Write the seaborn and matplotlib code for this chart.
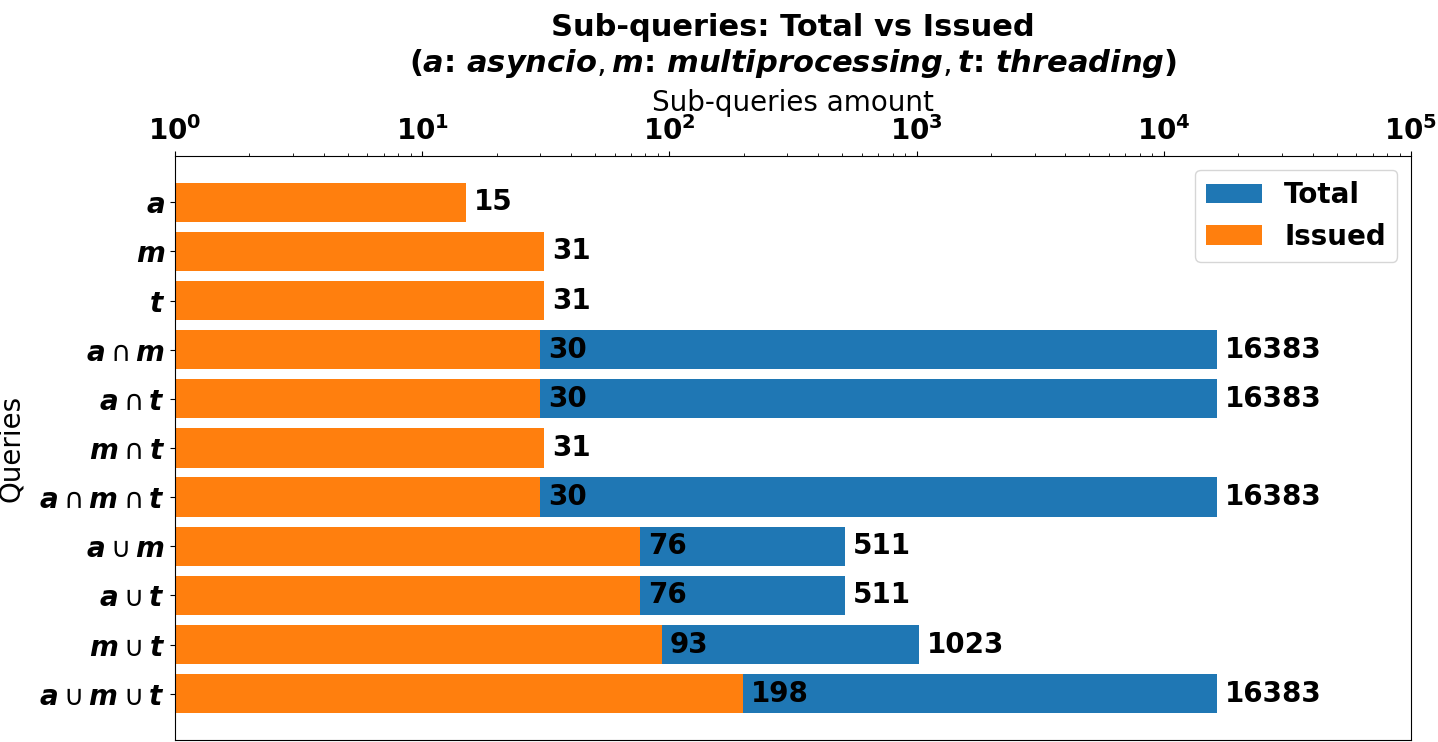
import seaborn as sns
import pandas as pd
import matplotlib.pyplot as plt

queries = ['a', 'm', 't', 'a∩m', 'a∩t', 'm∩t', 'a∩m∩t', 'a∪m', 'a∪t', 'm∪t', 'a∪m∪t']
tick_labels = [r'$\mathbfit{a}$', r'$\mathbfit{m}$', r'$\mathbfit{t}$',
               r'$\mathbfit{a} \cap \mathbfit{m}$', r'$\mathbfit{a} \cap \mathbfit{t}$',
               r'$\mathbfit{m} \cap \mathbfit{t}$',
               r'$\mathbfit{a} \cap \mathbfit{m} \cap \mathbfit{t}$',
               r'$\mathbfit{a} \cup \mathbfit{m}$', r'$\mathbfit{a} \cup \mathbfit{t}$',
               r'$\mathbfit{m} \cup \mathbfit{t}$',
               r'$\mathbfit{a} \cup \mathbfit{m} \cup \mathbfit{t}$']
total = [15, 31, 31, 16383, 16383, 31, 16383, 511, 511, 1023, 16383]
issued = [15, 31, 31, 30, 30, 31, 30, 76, 76, 93, 198]

plt.rcParams['mathtext.fontset'] = 'dejavusans'

df = pd.DataFrame({'query': queries, 'total': total, 'issued': issued})

fig = plt.figure(figsize=(14.38, 7.42), dpi=100)
ax = fig.add_axes([0.1217, 0.0027, 0.8595, 0.7871])
ax.set_xscale('log')

sns.barplot(data=df, x='total', y='query', color='#1f77b4', saturation=1, width=0.8,
            label='Total', ax=ax)
sns.barplot(data=df, x='issued', y='query', color='#ff7f0e', saturation=1, width=0.8,
            label='Issued', ax=ax)

# label total only where it differs from issued
total_labels = [str(t) if t != i else '' for t, i in zip(total, issued)]
ax.bar_label(ax.containers[0], labels=total_labels, padding=6, fontsize=20, fontweight='bold')
ax.bar_label(ax.containers[1], labels=[str(i) for i in issued], padding=6, fontsize=20,
             fontweight='bold')

ax.set_xlim(1, 1e5)
ax.set_ylim(10.94, -0.94)
ax.set_yticks(range(len(queries)))
ax.set_yticklabels(tick_labels, fontsize=20)

ax.xaxis.tick_top()
ax.xaxis.set_label_position('top')
ax.tick_params(axis='x', labelsize=20)
for lbl in ax.get_xticklabels():
    lbl.set_fontweight('bold')
ax.set_xlabel('Sub-queries amount', fontsize=20)
ax.set_ylabel('Queries', fontsize=20, labelpad=10)

ax.set_title('Sub-queries: Total vs Issued\n'
             r'($\mathbfit{a}$: $\mathbfit{asyncio}, \mathbfit{m}$: $\mathbfit{multiprocessing}, '
             r'\mathbfit{t}$: $\mathbfit{threading}$)',
             fontsize=22, fontweight='bold', pad=12)

ax.legend(loc='upper right', prop={'size': 20, 'weight': 'bold'})

plt.savefig('out.png', dpi=100)
